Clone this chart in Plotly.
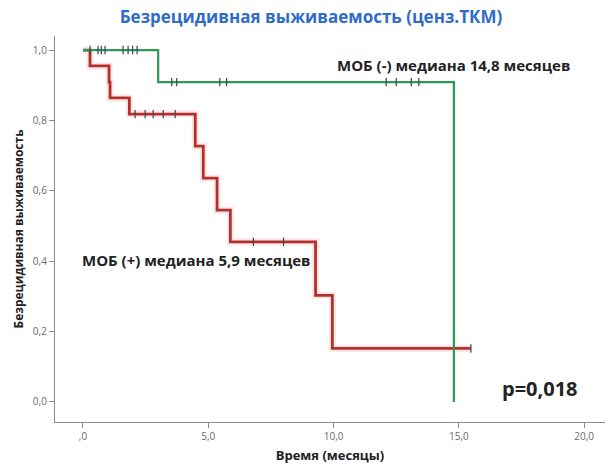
import plotly.graph_objects as go

# Kaplan-Meier steps, MRD-negative group
neg_times = [0.0, 3.0, 14.8]
neg_surv = [1.0, 0.909, 0.0]
neg_cens_t = [0.28, 0.6, 0.73, 0.88, 1.6, 1.8, 1.98, 2.16, 3.54, 3.74, 5.46, 5.73, 12.1, 12.5, 13.1, 13.4]
neg_cens_s = [1.0] * 8 + [0.909] * 8

# Kaplan-Meier steps, MRD-positive group
pos_times = [0.0, 0.28, 1.04, 1.08, 1.85, 4.48, 4.8, 5.35, 5.88, 9.28, 9.95, 15.48]
pos_surv = [1.0, 0.955, 0.909, 0.864, 0.818, 0.727, 0.636, 0.545, 0.455, 0.303, 0.152, 0.152]
pos_cens_t = [2.08, 2.48, 2.8, 3.2, 3.68, 6.8, 8.0, 15.48]
pos_cens_s = [0.818] * 5 + [0.455] * 2 + [0.152]

x_ticks = [0, 5, 10, 15, 20]
x_tick_text = [",0", "5,0", "10,0", "15,0", "20,0"]
y_ticks = [0.0, 0.2, 0.4, 0.6, 0.8, 1.0]
y_tick_text = ["0,0", "0,2", "0,4", "0,6", "0,8", "1,0"]

FONT = "Open Sans"
GREEN = "#2a9a55"
RED = "#b5302d"
CENS = "#3a4258"

fig = go.Figure()

# faint halo under the red curve
fig.add_trace(go.Scatter(x=pos_times, y=pos_surv, mode="lines", line_shape="hv",
                         line=dict(color="rgba(240,140,150,0.22)", width=7),
                         hoverinfo="skip", showlegend=False))
fig.add_trace(go.Scatter(x=pos_times, y=pos_surv, mode="lines", line_shape="hv",
                         line=dict(color=RED, width=2.8), name="МОБ (+)", showlegend=False))
fig.add_trace(go.Scatter(x=neg_times, y=neg_surv, mode="lines", line_shape="hv",
                         line=dict(color=GREEN, width=2.2), name="МОБ (-)", showlegend=False))

for t, s in ((neg_cens_t, neg_cens_s), (pos_cens_t, pos_cens_s)):
    fig.add_trace(go.Scatter(x=t, y=s, mode="markers",
                             marker=dict(symbol="line-ns", size=6,
                                         line=dict(color=CENS, width=1.2)),
                             hoverinfo="skip", showlegend=False))

axis_common = dict(showgrid=False, zeroline=False, showline=True, linecolor="#8a8a8a",
                   linewidth=1.2, ticks="outside", ticklen=5, tickcolor="#8a8a8a",
                   tickfont=dict(family=FONT, size=10, color="#6a6a6a"))

fig.update_xaxes(range=[-1.117, 20.83], tickvals=x_ticks, ticktext=x_tick_text,
                 title=dict(text="<b>Время (месяцы)</b>",
                            font=dict(family=FONT, size=13, color="#222222"), standoff=8),
                 **axis_common)
fig.update_yaxes(range=[-0.057, 1.04], tickvals=y_ticks, ticktext=y_tick_text,
                 title=dict(text="<b>Безрецидивная выживаемость</b>",
                            font=dict(family=FONT, size=12, color="#222222"), standoff=6),
                 **axis_common)


def note(text, xpix, ypix, size):
    fig.add_annotation(xref="paper", yref="paper",
                       x=(xpix - 55) / 550, y=(422 - ypix) / 386,
                       text=text, showarrow=False, xanchor="center", yanchor="middle",
                       font=dict(family=FONT, size=size, color="#222222"))


note("<b>МОБ (-) медиана 14,8 месяцев</b>", 453, 65, 15)
note("<b>МОБ (+) медиана 5,9 месяцев</b>", 196, 260, 15)
note("<b>p=0,018</b>", 540, 388, 20)

fig.update_layout(
    width=608, height=465,
    margin=dict(l=55, r=3, t=36, b=43),
    paper_bgcolor="white", plot_bgcolor="white",
    title=dict(text="<b>Безрецидивная выживаемость (ценз.ТКМ)</b>",
               x=311 / 608, xanchor="center", y=1 - 17 / 465, yanchor="middle",
               font=dict(family=FONT, size=17, color="#2f6cc8")),
)

fig.write_html("out.html")
